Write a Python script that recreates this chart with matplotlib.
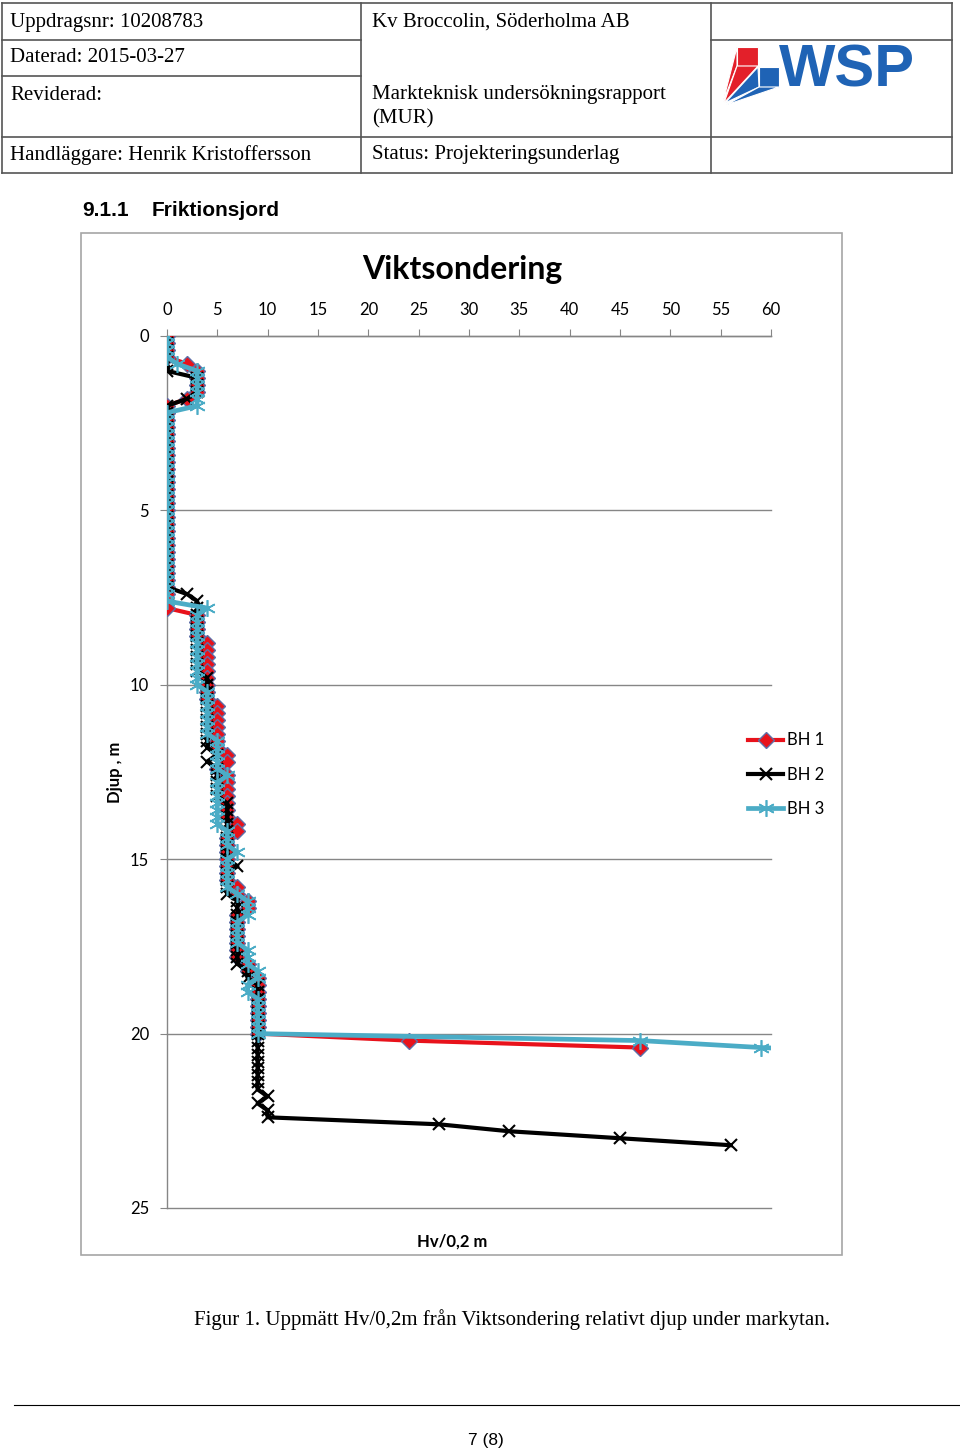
import numpy as np
import matplotlib
matplotlib.use("Agg")
import matplotlib.pyplot as plt
from matplotlib.patches import Rectangle, Polygon
from matplotlib.lines import Line2D

# ---------------- data ----------------
depth_step = 0.2
bh1_values = [0, 0, 0, 0, 2, 3, 3, 3, 3, 2,
              0, 0, 0, 0, 0, 0, 0, 0, 0, 0, 0, 0, 0, 0, 0, 0, 0, 0, 0, 0,
              0, 0, 0, 0, 0, 0, 0, 0, 0, 0,
              3, 3, 3, 3, 4, 4, 4, 4, 4, 4, 4, 4, 4,
              5, 5, 5, 5, 5, 5, 5, 6, 6, 5, 6, 6, 6, 6, 6, 6, 6,
              7, 7, 6, 6, 6, 6, 6, 6, 6, 7, 7, 8, 8, 7, 7, 7, 7, 7, 7, 7,
              8, 8, 9, 9, 9, 9, 9, 9, 9, 9, 9, 24, 47]
bh2_values = [0, 0, 0, 0, 0, 0, 3, 3, 3, 2,
              0, 0, 0, 0, 0, 0, 0, 0, 0, 0, 0, 0, 0, 0, 0, 0, 0, 0, 0, 0,
              0, 0, 0, 0, 0, 0, 0, 2, 3, 3,
              3, 3, 3, 3, 3, 3, 3, 3, 3, 4, 4, 4, 4, 4, 4, 4, 4, 4, 4, 4,
              5, 4, 5, 5, 5, 5, 5, 6, 6, 6, 6, 6, 6, 6, 6, 6, 7, 6, 6, 6,
              6, 7, 7, 7, 7, 7, 7, 7, 7, 7, 7, 8, 8, 9, 9, 9, 9, 9, 9, 9,
              9, 9, 9, 9, 9, 9, 9, 9, 9, 10, 9, 10, 10, 27, 34, 45, 56]
bh3_values = [0, 0, 0, 0, 1, 3, 3, 3, 3, 3, 3,
              0, 0, 0, 0, 0, 0, 0, 0, 0, 0, 0, 0, 0, 0, 0, 0, 0, 0, 0,
              0, 0, 0, 0, 0, 0, 0, 0, 0, 4,
              3, 3, 3, 3, 3, 3, 3, 3, 3, 3, 3, 4, 4, 4, 4, 4, 4, 4, 5, 5,
              5, 5, 5, 6, 5, 5, 5, 5, 5, 5, 5, 6, 6, 6, 7, 6, 6, 6, 6, 6,
              7, 8, 8, 8, 7, 7, 7, 7, 8, 8, 8, 9, 9, 8, 8, 9, 9, 9, 9, 9,
              9, 47, 59, 75]
series_names = ["BH 1", "BH 2", "BH 3"]
x_ticks = list(range(0, 61, 5))
y_ticks = list(range(0, 26, 5))

header_left = ["Uppdragsnr: 10208783", "Daterad: 2015-03-27", "Reviderad:",
               "Handläggare: Henrik Kristoffersson"]
header_mid = ["Kv Broccolin, Söderholma AB", "Markteknisk undersökningsrapport",
              "(MUR)", "Status: Projekteringsunderlag"]

def depths(vals):
    return np.round(np.arange(len(vals)) * depth_step, 1)

# ---------------- figure ----------------
W, H = 960, 1453
fig = plt.figure(figsize=(9.6, 14.53), dpi=100)
fig.patch.set_facecolor("white")

def fx(x):
    return x / W

def fy(y):
    return 1 - y / H

# header table
tc = "#555555"
def hline(x0, x1, y, lw=1.2):
    fig.add_artist(Line2D([fx(x0), fx(x1)], [fy(y), fy(y)], color=tc, lw=lw))
def vline(x, y0, y1, lw=1.2):
    fig.add_artist(Line2D([fx(x), fx(x)], [fy(y0), fy(y1)], color=tc, lw=lw))

hline(2, 952, 3); hline(2, 952, 173)
hline(2, 361, 40); hline(2, 361, 76); hline(2, 952, 137); hline(711, 952, 40)
vline(2, 3, 173); vline(361, 3, 173); vline(711, 3, 173); vline(952, 3, 173)

serif = "Liberation Serif"
hs = 15
for txt, y in zip(header_left, [22, 58, 95, 155]):
    fig.text(fx(10), fy(y), txt, fontsize=hs, family=serif, va="center", ha="left")
for txt, y in zip(header_mid, [22, 95, 119, 155]):
    fig.text(fx(372), fy(y), txt, fontsize=hs, family=serif, va="center", ha="left")

# WSP logo
red = "#e3202a"
blue = "#1f63b5"
def poly(pts, color):
    fig.add_artist(Polygon([(fx(a), fy(b)) for a, b in pts], closed=True,
                           facecolor=color, edgecolor="white", lw=0.8))
poly([(737, 47), (758, 47), (758, 66), (737, 66)], red)
poly([(737, 47), (737, 66), (723, 102)], red)
poly([(737, 66), (758, 66), (724, 103)], red)
poly([(759, 67), (779, 67), (779, 87), (759, 87)], blue)
poly([(758, 67), (759, 87), (725, 103)], blue)
poly([(759, 87), (779, 87), (726, 105)], blue)
fig.text(fx(779), fy(71), "WSP", fontsize=43, fontweight="bold", color=blue,
         family="Liberation Sans", va="center", ha="left")

# section heading
fig.text(fx(82), fy(210), "9.1.1", fontsize=15, fontweight="bold",
         family="Liberation Sans", va="center", ha="left")
fig.text(fx(152), fy(210), "Friktionsjord", fontsize=15, fontweight="bold",
         family="Liberation Sans", va="center", ha="left")

# chart frame
fig.add_artist(Rectangle((fx(81), fy(1255)), fx(842) - fx(81), fy(233) - fy(1255),
                         facecolor="none", edgecolor="#a6a6a6", lw=1.2))

cf = "Lato"
fig.text(fx(462), fy(269), "Viktsondering", fontsize=23, fontweight="bold",
         family=cf, ha="center", va="center")

ax = fig.add_axes([fx(167), fy(1208), fx(771) - fx(167), fy(336) - fy(1208)])
ax.set_xlim(0, 60)
ax.set_ylim(25, 0)

gc = "#868686"
ax.plot(bh1_values, depths(bh1_values), color="#e8121b", lw=3.0, marker="D",
        markersize=8, markerfacecolor="#e8121b", markeredgecolor="#5e6fa8",
        markeredgewidth=1.0, label=series_names[0], zorder=3)
ax.plot(bh2_values, depths(bh2_values), color="black", lw=3.0, marker="x",
        markersize=9, markeredgewidth=1.5, label=series_names[1], zorder=4)
ax.plot(bh3_values, depths(bh3_values), color="#4bacc6", lw=3.4, marker=(6, 2, 0),
        markersize=12, markeredgewidth=1.2, markeredgecolor="#4bacc6",
        label=series_names[2], zorder=5)

ax.set_xticks(x_ticks)
ax.set_yticks(y_ticks)
ax.xaxis.tick_top()
ax.tick_params(axis="x", direction="out", length=5, color=gc, labelsize=12, pad=8)
ax.tick_params(axis="y", direction="out", length=5, color=gc, labelsize=12, pad=8)
for lab in ax.get_xticklabels() + ax.get_yticklabels():
    lab.set_family(cf)
ax.yaxis.grid(True, color=gc, lw=1.0)
ax.set_axisbelow(True)
for t in ax.yaxis.get_major_ticks():
    t.gridline.set_clip_on(False)
for s in ["right", "bottom"]:
    ax.spines[s].set_visible(False)
for s in ["top", "left"]:
    ax.spines[s].set_color(gc)
    ax.spines[s].set_linewidth(1.0)

fig.text(fx(115), fy(772), "Djup , m", rotation=90, fontsize=12, fontweight="bold",
         family=cf, ha="center", va="center")
fig.text(fx(452), fy(1242), "Hv/0,2 m", fontsize=12, fontweight="bold",
         family=cf, ha="center", va="center")

leg = ax.legend(loc="upper left", bbox_to_anchor=(fx(740), fy(724)),
                bbox_transform=fig.transFigure, frameon=False, handlelength=2.1,
                labelspacing=1.1, handletextpad=0.2, borderpad=0,
                prop={"family": cf, "size": 12})

# caption and footer
fig.text(fx(512), fy(1320), "Figur 1. Uppmätt Hv/0,2m från Viktsondering relativt djup under markytan.",
         fontsize=15, family=serif, ha="center", va="center")
fig.add_artist(Line2D([fx(14), fx(960)], [fy(1405), fy(1405)], color="black", lw=0.8))
fig.text(fx(486), fy(1441), "7 (8)", fontsize=12.5, family="Liberation Sans",
         ha="center", va="center")

fig.savefig("out.png", dpi=100)
